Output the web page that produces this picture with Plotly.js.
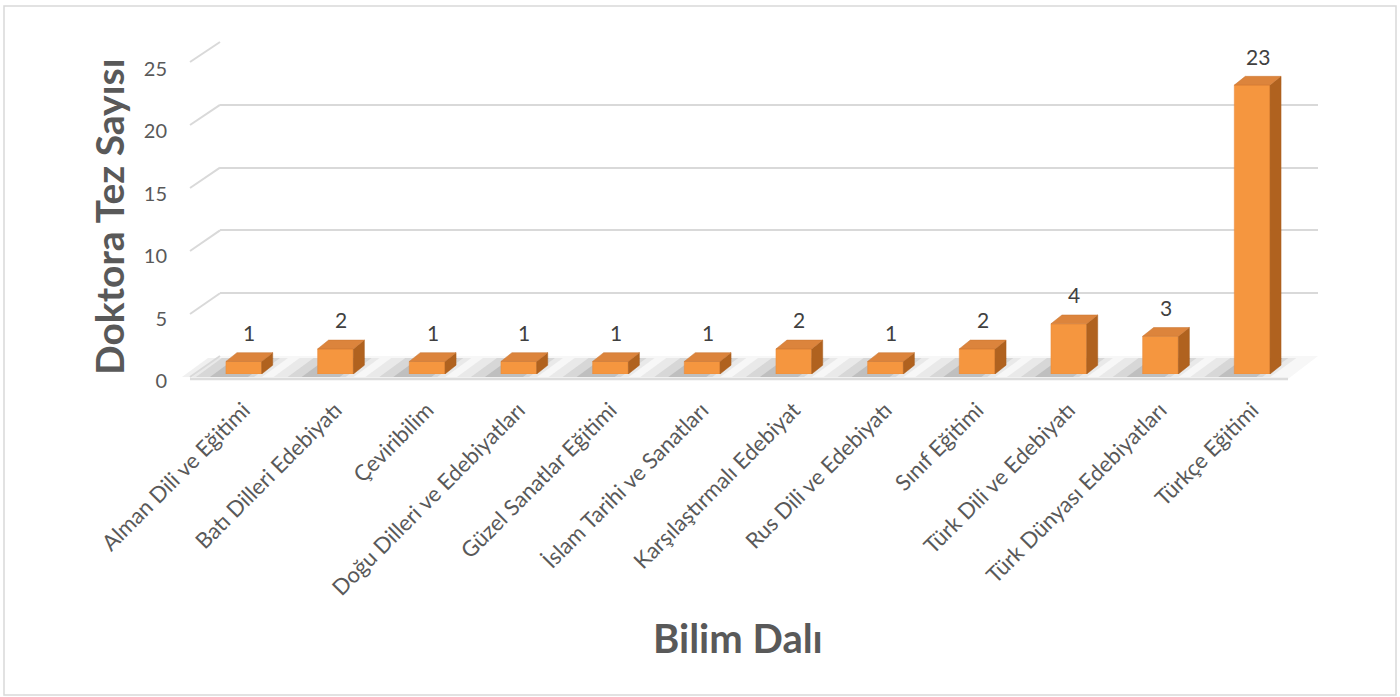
<!DOCTYPE html>
<html>
<head>
<meta charset="utf-8">
<script src="https://cdn.plot.ly/plotly-3.0.1.min.js"></script>
<style>html,body{margin:0;padding:0;background:#fff;}#chart{width:1400px;height:697px;}</style>
</head>
<body>
<div id="chart"></div>
<script>
const categories = ['Alman Dili ve Eğitimi','Batı Dilleri Edebiyatı','Çeviribilim','Doğu Dilleri ve Edebiyatları','Güzel Sanatlar Eğitimi','İslam Tarihi ve Sanatları','Karşılaştırmalı Edebiyat','Rus Dili ve Edebiyatı','Sınıf Eğitimi','Türk Dili ve Edebiyatı','Türk Dünyası Edebiyatları','Türkçe Eğitimi'];
const values = [1,2,1,1,1,1,2,1,2,4,3,23];
const yTicks = [0,5,10,15,20,25];
const yTitle = 'Doktora Tez Sayısı';
const xTitle = 'Bilim Dalı';

const W = 1400, H = 697;
const px = x => x / W;
const py = y => 1 - y / H;

// geometry (pixels)
const FRONT = {x0: 198, x1: 1298, y0: 374, yTop: 60};   // bar plane
const BACK  = {x0: 220, x1: 1318, y0: 356, yTop: 42};   // back wall
const EDGE  = {x0: 190, y0: 377, yTop: 62};              // front edge of floor
const LABELS = {y0: 381, yTop: 69};                      // tick label plane
const YMAX = 25;
const BARW = 0.39, DX = 0.12, DY = 0.7;
const n = categories.length;
const idx = categories.map((c, i) => i);

const frontPxX = i => FRONT.x0 + (i + 0.5) * (FRONT.x1 - FRONT.x0) / n;
const edgeY = v => EDGE.y0 - v * (EDGE.y0 - EDGE.yTop) / YMAX;
const backY = v => BACK.y0 - v * (BACK.y0 - BACK.yTop) / YMAX;

const shapes = [];
// outer border
shapes.push({type:'rect', xref:'paper', yref:'paper', x0:px(4), x1:px(1396), y0:py(695), y1:py(6),
  line:{color:'#d9d9d9', width:1.5}, layer:'below'});
// floor
const floorPath = `M${px(EDGE.x0)},${py(379)} L${px(1288)},${py(379)} L${px(BACK.x1)},${py(BACK.y0)} L${px(BACK.x0)},${py(BACK.y0)} Z`;
shapes.push({type:'path', xref:'paper', yref:'paper', path:floorPath, fillcolor:'#f7f7f7', line:{width:0}, layer:'below'});
shapes.push({type:'line', xref:'paper', yref:'paper', x0:px(EDGE.x0), x1:px(1288), y0:py(379), y1:py(379), line:{color:'#dcdcdc', width:2.5}, layer:'below'});
// shadows behind bars
values.forEach((v, i) => {
  const L = frontPxX(i) - BARW/2 * (FRONT.x1 - FRONT.x0) / n;
  const mk = (a, b, col) => ({type:'path', xref:'paper', yref:'paper',
    path:`M${px(L - a)},${py(377)} L${px(L + b)},${py(377)} L${px(L + b + 26)},${py(358)} L${px(L - a + 26)},${py(358)} Z`,
    fillcolor:col, line:{width:0}, layer:'below'});
  shapes.push(mk(44, 36, 'rgba(170,170,170,0.18)'));
  shapes.push(mk(30, 28, 'rgba(150,150,150,0.22)'));
  shapes.push(mk(16, 22, 'rgba(120,120,120,0.25)'));
});
// diagonals from front edge to back wall for each tick
yTicks.forEach(v => {
  shapes.push({type:'line', xref:'paper', yref:'paper', x0:px(EDGE.x0), y0:py(edgeY(v)), x1:px(BACK.x0), y1:py(backY(v)),
    line:{color:'#d9d9d9', width:2}, layer:'below'});
});
// bar side and top faces (3D look) in data coordinates
values.forEach((v, i) => {
  const r = i + BARW/2, l = i - BARW/2;
  shapes.push({type:'path', xref:'x2', yref:'y2',
    path:`M${r},0 L${r+DX},${DY} L${r+DX},${v+DY} L${r},${v} Z`, fillcolor:'#b0621f', line:{color:'#a85c1c', width:0.5}});
  shapes.push({type:'path', xref:'x2', yref:'y2',
    path:`M${l},${v} L${l+DX},${v+DY} L${r+DX},${v+DY} L${r},${v} Z`, fillcolor:'#dc843c', line:{color:'#c97530', width:0.5}});
});

const annotations = values.map((v, i) => ({
  xref:'x2', yref:'y2', x:i + DX/2, y:v, yshift:29, text:String(v), showarrow:false,
  font:{family:'Lato, sans-serif', size:21, color:'#404040'}
}));
annotations.push({xref:'paper', yref:'paper', x:px(738), y:py(638), text:'<b>'+xTitle+'</b>', showarrow:false,
  font:{family:'Lato, sans-serif', size:40, color:'#595959'}, xanchor:'center', yanchor:'middle'});
annotations.push({xref:'paper', yref:'paper', x:px(109), y:py(217), text:'<b>'+yTitle+'</b>', showarrow:false, textangle:-90,
  font:{family:'Lato, sans-serif', size:39, color:'#595959'}, xanchor:'center', yanchor:'middle'});

const traces = [
  {type:'scatter', x:[0], y:[0], xaxis:'x', yaxis:'y', mode:'markers', marker:{opacity:0}, hoverinfo:'skip', showlegend:false},
  {type:'bar', x:idx, y:values, xaxis:'x2', yaxis:'y2', width:BARW,
   marker:{color:'#f5963f', line:{color:'#e8883a', width:0.5}}, hoverinfo:'x+y', showlegend:false},
  {type:'scatter', x:[0], y:[0], xaxis:'x2', yaxis:'y3', mode:'markers', marker:{opacity:0}, hoverinfo:'skip', showlegend:false}
];

const layout = {
  width:W, height:H,
  margin:{l:0, r:0, t:0, b:0, pad:0},
  paper_bgcolor:'#ffffff', plot_bgcolor:'rgba(0,0,0,0)',
  showlegend:false,
  xaxis:{domain:[px(BACK.x0), px(BACK.x1)], range:[0,1], showgrid:false, zeroline:false, showticklabels:false, showline:false, fixedrange:true},
  yaxis:{domain:[py(BACK.y0), py(BACK.yTop)], range:[0,YMAX], tickvals:yTicks, showgrid:true, gridcolor:'#d9d9d9', gridwidth:2,
    zeroline:false, showticklabels:false, showline:false, fixedrange:true},
  xaxis2:{domain:[px(FRONT.x0), px(FRONT.x1)], range:[-0.5, n-0.5], anchor:'y2', tickvals:idx, ticktext:categories, tickangle:-45,
    showgrid:false, zeroline:false, showline:false, ticks:'', ticklabelstandoff:18,
    tickfont:{family:'Lato, sans-serif', size:22, color:'#595959'}, automargin:false, fixedrange:true},
  yaxis2:{domain:[py(FRONT.y0), py(FRONT.yTop)], range:[0,YMAX], anchor:'x2', showgrid:false, zeroline:false,
    showline:false, ticks:'', showticklabels:false, automargin:false, fixedrange:true},
  yaxis3:{domain:[py(LABELS.y0), py(LABELS.yTop)], range:[0,YMAX], anchor:'x2', tickvals:yTicks, showgrid:false, zeroline:false,
    showline:false, ticks:'', ticklabelstandoff:30, tickfont:{family:'Lato, sans-serif', size:20, color:'#595959'}, automargin:false, fixedrange:true},
  shapes:shapes,
  annotations:annotations
};

Plotly.newPlot('chart', traces, layout, {displayModeBar:false, staticPlot:true});
</script>
</body>
</html>
